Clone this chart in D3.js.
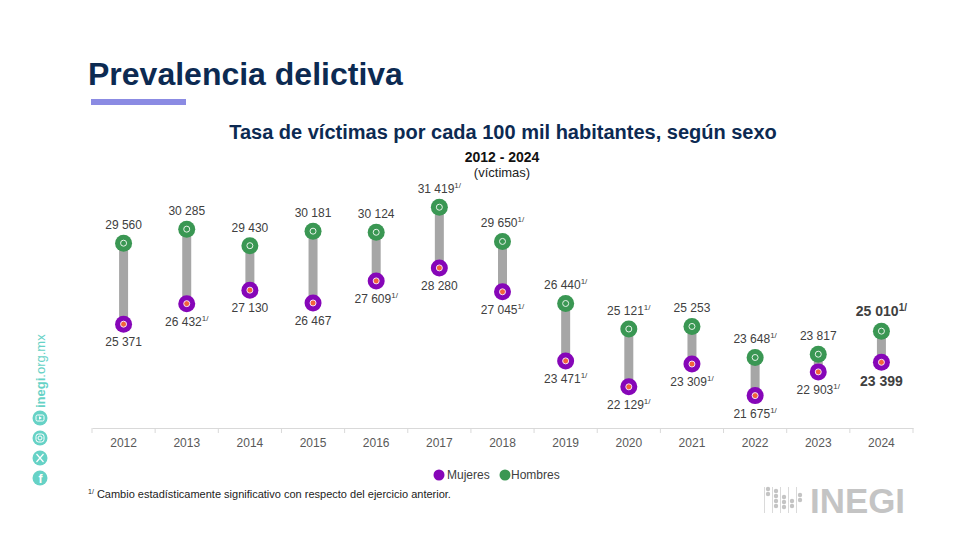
<!DOCTYPE html>
<html>
<head>
<meta charset="utf-8">
<script src="https://cdn.jsdelivr.net/npm/d3@7"></script>
<style>
  body { margin: 0; background: #fff; }
  text { font-family: "Liberation Sans", Arial, Helvetica, sans-serif; }
</style>
</head>
<body>
<div id="viz"></div>
<script>
const years = ["2012", "2013", "2014", "2015", "2016", "2017", "2018", "2019", "2020", "2021", "2022", "2023", "2024"];
const hombres = [29560, 30285, 29430, 30181, 30124, 31419, 29650, 26440, 25121, 25253, 23648, 23817, 25010];
const mujeres = [25371, 26432, 27130, 26467, 27609, 28280, 27045, 23471, 22129, 23309, 21675, 22903, 23399];
// years flagged with the "1/" note
const hombresSig = ["2017", "2018", "2019", "2020", "2022", "2024"];
const mujeresSig = ["2013", "2016", "2018", "2019", "2020", "2021", "2022", "2023"];
const seriesNames = ["Mujeres", "Hombres"];

const config = {
  width: 956,
  height: 535,
  left: 92,
  right: 913,
  axisY: 428,
  topY: 196,
  green: "#3a9753",
  purple: "#8606b8",
  orange: "#f3643a",
  barColor: "#a6a6a6",
  textColor: "#404040",
  navy: "#0c2a52",
  teal: "#66d2c6",
};

const svg = d3
  .select("#viz")
  .append("svg")
  .attr("width", config.width)
  .attr("height", config.height);

svg.append("rect").attr("width", config.width).attr("height", config.height).attr("fill", "#fff");

// header
svg.append("text")
  .attr("x", 88).attr("y", 85)
  .attr("font-size", 32).attr("font-weight", "bold")
  .attr("fill", config.navy)
  .text("Prevalencia delictiva");

svg.append("rect")
  .attr("x", 91).attr("y", 99).attr("width", 95).attr("height", 6)
  .attr("fill", "#8b8be3");

svg.append("text")
  .attr("x", 503).attr("y", 139)
  .attr("text-anchor", "middle")
  .attr("font-size", 20).attr("font-weight", "bold")
  .attr("fill", config.navy)
  .text("Tasa de víctimas por cada 100 mil habitantes, según sexo");

svg.append("text")
  .attr("x", 502).attr("y", 162)
  .attr("text-anchor", "middle")
  .attr("font-size", 14).attr("font-weight", "bold")
  .attr("fill", "#111")
  .text("2012 - 2024");

svg.append("text")
  .attr("x", 502).attr("y", 177)
  .attr("text-anchor", "middle")
  .attr("font-size", 13)
  .attr("fill", "#222")
  .text("(víctimas)");

// scales
const x = d3.scaleBand().domain(years).range([config.left, config.right]);
const y = d3.scaleLinear().domain([20000, 32000]).range([config.axisY, config.topY]);

// axis
const axis = svg.append("g")
  .attr("transform", `translate(0,${config.axisY})`)
  .call(d3.axisBottom(x).tickSize(0).tickPadding(10));
axis.select(".domain").attr("stroke", "#d9d9d9");
axis.selectAll(".tick text")
  .attr("font-size", 12)
  .attr("font-family", "Liberation Sans, Arial, sans-serif")
  .attr("fill", "#595959");

// separators at band edges
const edges = years.map((d) => x(d)).concat([x(years[years.length - 1]) + x.bandwidth()]);
svg.append("g").selectAll("line")
  .data(edges)
  .join("line")
  .attr("x1", (d) => d).attr("x2", (d) => d)
  .attr("y1", config.axisY).attr("y2", config.axisY + 5)
  .attr("stroke", "#d9d9d9");

const rows = years.map((yr, i) => ({
  year: yr,
  h: hombres[i],
  m: mujeres[i],
  hSig: hombresSig.includes(yr),
  mSig: mujeresSig.includes(yr),
  last: i === years.length - 1,
}));

const cx = (d) => x(d.year) + x.bandwidth() / 2;
const fmt = (v) => d3.format(",")(v).replace(",", " ");

// bars
svg.append("g").selectAll("line")
  .data(rows)
  .join("line")
  .attr("x1", cx).attr("x2", cx)
  .attr("y1", (d) => y(d.h)).attr("y2", (d) => y(d.m))
  .attr("stroke", config.barColor)
  .attr("stroke-width", 9);

// dots
const drawDots = (key, outer, innerFill, innerStroke) => {
  const g = svg.append("g");
  g.selectAll("circle.outer")
    .data(rows)
    .join("circle")
    .attr("class", "outer")
    .attr("cx", cx).attr("cy", (d) => y(d[key]))
    .attr("r", 8.5)
    .attr("fill", outer);
  g.selectAll("circle.inner")
    .data(rows)
    .join("circle")
    .attr("class", "inner")
    .attr("cx", cx).attr("cy", (d) => y(d[key]))
    .attr("r", 3)
    .attr("fill", innerFill)
    .attr("stroke", innerStroke)
    .attr("stroke-width", 1);
};
drawDots("h", config.green, config.green, "#e8f3ea");
drawDots("m", config.purple, config.orange, "#f5e0f8");

// value labels
const drawLabels = (key, sigKey, dy) => {
  const t = svg.append("g").selectAll("text")
    .data(rows)
    .join("text")
    .attr("x", cx)
    .attr("y", (d) => y(d[key]) + (d.last ? dy * 1.1 : dy))
    .attr("text-anchor", "middle")
    .attr("font-size", (d) => (d.last ? 14 : 12))
    .attr("font-weight", (d) => (d.last ? "bold" : "normal"))
    .attr("fill", config.textColor);
  t.append("tspan").text((d) => fmt(d[key]));
  t.filter((d) => d[sigKey])
    .append("tspan")
    .attr("dy", -5)
    .attr("font-size", (d) => (d.last ? 10 : 8))
    .text("1/");
};
drawLabels("h", "hSig", -14);
drawLabels("m", "mSig", 22);

// legend
const legendColors = [config.purple, config.green];
const legendX = [439, 505];
const legend = svg.append("g").selectAll("g")
  .data(seriesNames)
  .join("g")
  .attr("transform", (d, i) => `translate(${legendX[i]},475)`);
legend.append("circle").attr("r", 5.5).attr("fill", (d, i) => legendColors[i]);
legend.append("text")
  .attr("x", (d, i) => (i === 0 ? 8 : 6))
  .attr("y", 4)
  .attr("font-size", 12)
  .attr("fill", config.textColor)
  .text((d) => d);

// footnote
const note = svg.append("text")
  .attr("x", 88).attr("y", 498)
  .attr("font-size", 11)
  .attr("fill", "#222");
note.append("tspan").attr("font-size", 7).attr("dy", -4).text("1/");
note.append("tspan").attr("dy", 4).text(" Cambio estadísticamente significativo con respecto del ejercicio anterior.");

// side website + icons
const site = svg.append("text")
  .attr("transform", "translate(45,408) rotate(-90)")
  .attr("font-size", 13)
  .attr("fill", config.teal);
site.append("tspan").attr("font-weight", "bold").text("inegi");
site.append("tspan").text(".org.mx");

const icons = [418, 438, 458, 478];
svg.append("g").selectAll("circle")
  .data(icons)
  .join("circle")
  .attr("cx", 40).attr("cy", (d) => d)
  .attr("r", 7.5)
  .attr("fill", config.teal);
// youtube
svg.append("rect").attr("x", 36).attr("y", 415).attr("width", 8).attr("height", 6).attr("rx", 1.5)
  .attr("fill", "none").attr("stroke", "#fff").attr("stroke-width", 1);
svg.append("path").attr("d", "M39,416.3 L42,418 L39,419.7 Z").attr("fill", "#fff");
// instagram
svg.append("rect").attr("x", 36).attr("y", 434).attr("width", 8).attr("height", 8).attr("rx", 2.5)
  .attr("fill", "none").attr("stroke", "#fff").attr("stroke-width", 1);
svg.append("circle").attr("cx", 40).attr("cy", 438).attr("r", 2)
  .attr("fill", "none").attr("stroke", "#fff").attr("stroke-width", 1);
// x
svg.append("path").attr("d", "M36.5,454 L43.5,462 M43.5,454 L36.5,462")
  .attr("stroke", "#fff").attr("stroke-width", 1.2);
// facebook
svg.append("text").attr("x", 40.5).attr("y", 483).attr("text-anchor", "middle")
  .attr("font-size", 12).attr("font-weight", "bold").attr("fill", "#fff").text("f");

// INEGI logo
const logo = svg.append("g").attr("fill", "#c4c4c4").attr("stroke", "#c4c4c4");
const logoCols = [
  { x: 768, dots: [489, 494] },
  { x: 776, dots: [491, 496, 501, 506] },
  { x: 784, dots: [497, 502, 507] },
  { x: 792, dots: [501, 506] },
  { x: 800, dots: [495, 500] },
];
logoCols.forEach((c) => {
  logo.append("line").attr("x1", c.x - 3.5).attr("x2", c.x - 3.5).attr("y1", 487).attr("y2", 513)
    .attr("stroke-width", 0.8).attr("stroke", "#d0d0d0");
  c.dots.forEach((dy) => {
    logo.append("circle").attr("cx", c.x).attr("cy", dy).attr("r", 2.2).attr("stroke", "none");
  });
});
svg.append("text")
  .attr("x", 810).attr("y", 513)
  .attr("font-size", 35).attr("font-weight", "bold")
  .attr("textLength", 95).attr("lengthAdjust", "spacingAndGlyphs")
  .attr("fill", "#c4c4c4")
  .text("INEGI");
</script>
</body>
</html>
